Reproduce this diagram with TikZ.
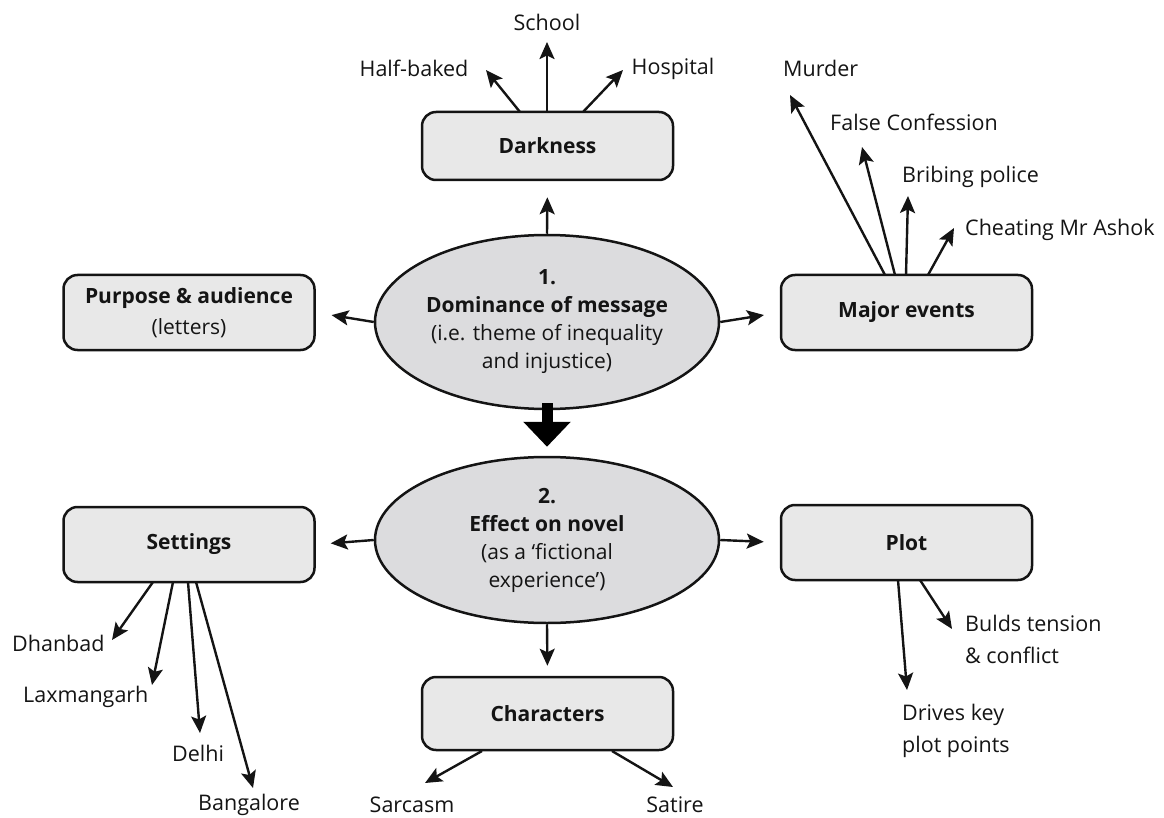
\documentclass[tikz,border=0pt]{standalone}
\usepackage{fontspec}
\setmainfont{Open Sans}
\usetikzlibrary{arrows.meta,shapes.geometric}
\definecolor{boxfill}{RGB}{232,232,232}
\definecolor{ellfill}{RGB}{220,220,222}
\definecolor{ink}{RGB}{20,20,20}
\begin{document}
\begin{tikzpicture}[x=1pt,y=-1pt,
  box/.style={draw=ink, line width=2.5pt, rounded corners=14pt, fill=boxfill,
    minimum width=251pt, minimum height=75pt, align=center, text=ink,
    font=\fontsize{21}{31}\selectfont},
  ell/.style={ellipse, draw=ink, line width=2.5pt, fill=ellfill, inner sep=0pt,
    minimum width=344pt, align=center, text=ink,
    font=\fontsize{21}{28}\selectfont},
  lbl/.style={font=\fontsize{21.5}{32}\selectfont, inner sep=0pt, text=ink, align=left},
  arr/.style={draw=ink, line width=2.4pt, -{Stealth[length=17pt,width=15pt,inset=3.5pt]}},
  bigarr/.style={draw=black, line width=11pt, -{Triangle[length=25pt,width=46pt]}},
]
\useasboundingbox (0,0) rectangle (1164,818);

% central ellipses
\node[ell, minimum height=174pt] (e1) at (547,322)
  {\textbf{1.}\\\textbf{Dominance of message}\\(i.e. theme of inequality\\and injustice)};
\node[ell, minimum height=166pt] (e2) at (547,540)
  {\textbf{2.}\\\textbf{Effect on novel}\\(as a ‘fictional\\experience’)};

% boxes
\node[box, minimum height=68pt] (dark) at (547.5,146) {\textbf{Darkness}};
\node[box] (purp) at (189,312.5) {\textbf{Purpose \& audience}\\(letters)};
\node[box] (major) at (906.5,312.5) {\textbf{Major events}};
\node[box] (sett) at (189,544.5) {\textbf{Settings}};
\node[box] (plot) at (906.5,542.5) {\textbf{Plot}};
\node[box, minimum height=73pt] (char) at (547.5,713.5) {\textbf{Characters}};

% main connectors
\draw[bigarr, shorten <=-7pt, shorten >=9pt] (e1.south) -- (e2.north);
\draw[arr, shorten >=16pt] (e1.north) -- (dark.south);
\draw[arr, shorten >=16pt] (e1.west) -- (purp.east);
\draw[arr, shorten >=16pt] (e1.east) -- (major.west);
\draw[arr, shorten >=15pt] (e2.west) -- (sett.east);
\draw[arr, shorten >=16pt] (e2.east) -- (plot.west);
\draw[arr, shorten >=10pt] (e2.south) -- (char.north);

% Darkness leaves
\node[lbl] (school) at (547,22) {School};
\node[lbl] (half) at (414,68) {Half-baked};
\node[lbl] (hosp) at (673,69) {Hospital};
\coordinate (d1) at (520,112); \coordinate (d1t) at (486,70);
\coordinate (d2) at (547,112); \coordinate (d2t) at (547,42);
\coordinate (d3) at (583,112); \coordinate (d3t) at (623,70);
\draw[arr] (d1) -- (d1t);
\draw[arr] (d2) -- (d2t);
\draw[arr] (d3) -- (d3t);

% Major events leaves
\node[lbl, anchor=west] (murder) at (783,68) {Murder};
\node[lbl, anchor=west] (false) at (830,122) {False Confession};
\node[lbl, anchor=west] (brib) at (902,177) {Bribing police};
\node[lbl, anchor=west] (cheat) at (965,230) {Cheating Mr Ashok};
\coordinate (m1) at (885,275); \coordinate (m1t) at (790,95);
\coordinate (m2) at (895,275); \coordinate (m2t) at (862,147);
\coordinate (m3) at (906,275); \coordinate (m3t) at (908,196);
\coordinate (m4) at (928,275); \coordinate (m4t) at (954,228);
\draw[arr] (m1) -- (m1t);
\draw[arr] (m2) -- (m2t);
\draw[arr] (m3) -- (m3t);
\draw[arr] (m4) -- (m4t);

% Settings leaves
\node[lbl, anchor=west] (dhan) at (12,643) {Dhanbad};
\node[lbl, anchor=west] (laxm) at (23,697) {Laxmangarh};
\node[lbl, anchor=west] (delhi) at (172,753) {Delhi};
\node[lbl, anchor=west] (bang) at (198,805) {Bangalore};
\coordinate (s1) at (153,582); \coordinate (s1t) at (112,640);
\coordinate (s2) at (173,582); \coordinate (s2t) at (152,685);
\coordinate (s3) at (188,582); \coordinate (s3t) at (200,733);
\coordinate (s4) at (196,582); \coordinate (s4t) at (253,788);
\draw[arr] (s1) -- (s1t);
\draw[arr] (s2) -- (s2t);
\draw[arr] (s3) -- (s3t);
\draw[arr] (s4) -- (s4t);

% Plot leaves
\node[lbl, anchor=west] (bulds) at (965,639) {Bulds tension\\\& conflict};
\node[lbl, anchor=west] (drives) at (902,731) {Drives key\\plot points};
\coordinate (p1) at (898,580); \coordinate (p1t) at (907,690);
\coordinate (p2) at (920,580); \coordinate (p2t) at (952,629);
\draw[arr] (p1) -- (p1t);
\draw[arr] (p2) -- (p2t);

% Characters leaves
\node[lbl] (sarc) at (412,805) {Sarcasm};
\node[lbl] (sat) at (675,805) {Satire};
\coordinate (c1) at (482,751); \coordinate (c1t) at (425,783);
\coordinate (c2) at (612,751); \coordinate (c2t) at (673,787);
\draw[arr] (c1) -- (c1t);
\draw[arr] (c2) -- (c2t);
\end{tikzpicture}
\end{document}
